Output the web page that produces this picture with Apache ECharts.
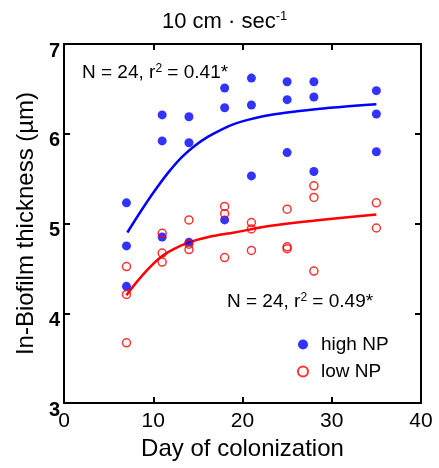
<!DOCTYPE html>
<html>
<head>
<meta charset="utf-8">
<script src="https://cdn.jsdelivr.net/npm/echarts@6/dist/echarts.min.js"></script>
<style>html,body{margin:0;padding:0;background:#fff;}#c{width:439px;height:468px;}</style>
</head>
<body>
<div id="c"></div>
<script>
const highNPDay = [7,7,7, 11,11,11, 14,14,14, 18,18,18, 21,21,21, 25,25,25, 28,28,28, 35,35,35];
const highNPVal = [5.23,4.75,4.30, 6.21,5.92,4.85, 6.19,5.90,4.79, 6.51,6.29,5.04, 6.62,6.32,5.53, 6.58,6.38,5.79, 6.58,6.41,5.58, 6.48,6.22,5.80];
const lowNPDay = [7,7,7, 11,11,11, 14,14,14, 18,18,18, 21,21,21, 25,25,25, 28,28,28, 35,35];
const lowNPVal = [4.52,4.21,3.67, 4.89,4.67,4.57, 5.04,4.77,4.71, 5.19,5.11,4.62, 5.01,4.94,4.70, 5.16,4.74,4.72, 5.42,5.29,4.47, 5.23,4.95];
const highFitDay = [7.1, 8.7, 10.2, 11.7, 13.2, 14.7, 16.2, 17.7, 19.1, 20.8, 23.1, 26.1, 29.8, 35];
const highFitVal = [4.90, 5.15, 5.37, 5.57, 5.74, 5.87, 5.97, 6.05, 6.11, 6.16, 6.21, 6.25, 6.29, 6.33];
const lowFitDay = [7.0, 8.0, 9.5, 10.9, 12.4, 14.0, 16.2, 19.1, 22.3, 26.1, 29.8, 35];
const lowFitVal = [4.20, 4.33, 4.50, 4.63, 4.72, 4.79, 4.85, 4.90, 4.96, 5.01, 5.05, 5.10];
const seriesNames = ['high NP', 'low NP'];
const titleText = '10 cm · sec';
const titleSup = '-1';
const annotHigh = ['N = 24, r', '2', ' = 0.41*'];
const annotLow = ['N = 24, r', '2', ' = 0.49*'];

const FF = '"Liberation Sans", Arial, sans-serif';
const zip = (a, b) => a.map((v, i) => [v, b[i]]);
const axisBase = {
  axisLine: {show: true, onZero: false, lineStyle: {color: '#000', width: 2}},
  axisTick: {show: true, inside: true, length: 6, lineStyle: {color: '#000', width: 2}},
  splitLine: {show: false}
};
const chart = echarts.init(document.getElementById('c'), null, {renderer: 'canvas'});
const richAnn = (parts) => '{n|' + parts[0] + '}{s|' + parts[1] + '}{n|' + parts[2] + '}';
const annRich = {
  n: {fontSize: 19, fontFamily: FF, fill: '#000', lineHeight: 20},
  s: {fontSize: 12, fontFamily: FF, fill: '#000', lineHeight: 12, verticalAlign: 'top'}
};
chart.setOption({
  animation: false,
  backgroundColor: '#fff',
  grid: {left: 64, right: 18, top: 44, bottom: 65, containLabel: false},
  xAxis: [
    Object.assign({type: 'value', min: 0, max: 40, interval: 10, position: 'bottom',
      axisLabel: {fontSize: 21, color: '#000', fontFamily: FF, margin: 8},
      name: 'Day of colonization', nameLocation: 'middle', nameGap: 32,
      nameTextStyle: {fontSize: 24, color: '#000', fontFamily: FF}}, axisBase),
    Object.assign({type: 'value', min: 0, max: 40, interval: 10, position: 'top',
      axisLabel: {show: false}}, axisBase)
  ],
  yAxis: [
    Object.assign({type: 'value', min: 3, max: 7, interval: 1, position: 'left',
      axisLabel: {fontSize: 20, fontWeight: 'bold', color: '#000', fontFamily: FF, margin: 4, verticalAlign: 'top', lineHeight: 14},
      name: 'In-Biofilm thickness (µm)', nameLocation: 'middle', nameGap: 24,
      nameTextStyle: {fontSize: 24, color: '#000', fontFamily: FF}}, axisBase),
    Object.assign({type: 'value', min: 3, max: 7, interval: 1, position: 'right',
      axisLabel: {show: false}}, axisBase)
  ],
  legend: {
    data: seriesNames, orient: 'vertical', left: 292, top: 330,
    itemWidth: 10, itemHeight: 10, itemGap: 8,
    textStyle: {fontSize: 19, color: '#000', fontFamily: FF, padding: [0, 0, 0, 8]}
  },
  graphic: [
    {type: 'text', x: 162, y: 22, style: {
      text: '{a|' + titleText + '}{s|' + titleSup + '}', verticalAlign: 'middle',
      rich: {a: {fontSize: 22, fontFamily: FF, fill: '#000', lineHeight: 24},
             s: {fontSize: 13, fontFamily: FF, fill: '#000', lineHeight: 14, verticalAlign: 'top'}}
    }},
    {type: 'text', x: 82, y: 73, style: {text: richAnn(annotHigh), verticalAlign: 'middle', rich: annRich}},
    {type: 'text', x: 227, y: 302, style: {text: richAnn(annotLow), verticalAlign: 'middle', rich: annRich}}
  ],
  series: [
    {name: 'high NP fit', type: 'line', data: zip(highFitDay, highFitVal), smooth: 0.3, showSymbol: false,
      lineStyle: {color: '#0000ff', width: 2.5}, z: 3},
    {name: 'low NP fit', type: 'line', data: zip(lowFitDay, lowFitVal), smooth: 0.3, showSymbol: false,
      lineStyle: {color: '#ff0000', width: 2.5}, z: 3},
    {name: seriesNames[0], type: 'scatter', data: zip(highNPDay, highNPVal), symbol: 'circle', symbolSize: 9,
      itemStyle: {color: '#0000ff'}, z: 4},
    {name: seriesNames[1], type: 'scatter', data: zip(lowNPDay, lowNPVal), symbol: 'circle', symbolSize: 8,
      itemStyle: {color: 'rgba(255,255,255,0)', borderColor: '#ff0000', borderWidth: 1.5}, z: 5}
  ]
});
</script>
</body>
</html>
